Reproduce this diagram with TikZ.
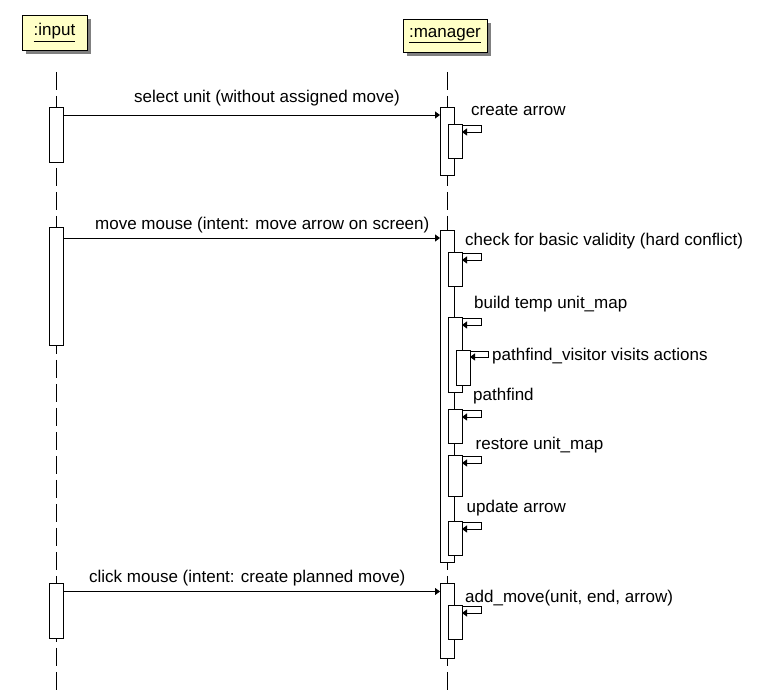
\documentclass[tikz,border=0pt]{standalone}
\usepackage{fontspec}
\setmainfont{Liberation Sans}
\usetikzlibrary{arrows.meta}
\definecolor{hdrfill}{HTML}{FFFFC6}
\definecolor{shadowgray}{HTML}{808080}
\begin{document}
\begin{tikzpicture}[x=1pt,y=-1pt,
  every node/.style={font=\fontsize{17}{20}\selectfont},
  bar/.style={draw, fill=white, line width=0.9pt, minimum width=14pt, inner sep=0pt, outer sep=0pt, anchor=north},
  hdr/.style={draw, fill=hdrfill, line width=0.9pt, inner sep=0pt, outer sep=0pt, anchor=north west},
  shd/.style={fill=shadowgray, draw=none, inner sep=0pt, outer sep=0pt, anchor=north west},
  lifeline/.style={line width=0.9pt, dash pattern=on 18pt off 6pt},
  msg/.style={line width=0.9pt, -{Triangle[length=5pt,width=7pt]}},
  selfcall/.style={line width=0.9pt, -{Triangle[length=5pt,width=7pt]}},
  lbl/.style={anchor=base west, inner sep=0pt}
]
\useasboundingbox (0,0) rectangle (772,692);

% headers
\node[shd, minimum width=65pt, minimum height=35pt] (shin) at (26,19) {};
\node[hdr, minimum width=65pt, minimum height=35pt] (hin) at (22,15) {\underline{:input}};
\node[shd, minimum width=84pt, minimum height=33pt] (shmg) at (407,23) {};
\node[hdr, minimum width=84pt, minimum height=33pt] (hmg) at (403,19) {\underline{:manager}};

% lifelines
\coordinate (inTop) at (56.5,72);
\coordinate (inBot) at (56.5,692);
\coordinate (mgTop) at (447,72);
\coordinate (mgBot) at (447,692);
\draw[lifeline] (inTop) -- (inBot);
\draw[lifeline] (mgTop) -- (mgBot);

% input activations
\node[bar, minimum height=55pt] (ib1) at (56.5,107) {};
\node[bar, minimum height=118pt] (ib2) at (56.5,227) {};
\node[bar, minimum height=55pt] (ib3) at (56.5,583) {};

% manager activations
\node[bar, minimum height=68pt] (mb1) at (447,107) {};
\node[bar, minimum height=34pt] (c1) at (455,124) {};

\node[bar, minimum height=332pt] (mb2) at (447,230) {};
\node[bar, minimum height=34pt] (c2) at (455,252) {};
\node[bar, minimum height=75pt] (c3) at (455,317) {};
\node[bar, minimum height=35pt] (c4) at (463,350) {};
\node[bar, minimum height=34pt] (c5) at (455,409) {};
\node[bar, minimum height=41pt] (c6) at (455,455) {};
\node[bar, minimum height=34pt] (c7) at (455,521) {};

\node[bar, minimum height=75pt] (mb3) at (447,583) {};
\node[bar, minimum height=34pt] (c8) at (455,605) {};

% messages
\coordinate (m1) at (0,115);
\coordinate (m2) at (0,238);
\coordinate (m3) at (0,591.5);
\draw[msg] (ib1.east |- m1) -- (mb1.west |- m1);
\draw[msg] (ib2.east |- m2) -- (mb2.west |- m2);
\draw[msg] (ib3.east |- m3) -- (mb3.west |- m3);
\node[lbl] (l1) at (134,102.5) {select unit (without assigned move)};
\node[lbl] (l2) at (95,229.5) {move mouse (intent: move arrow on screen)};
\node[lbl] (l3) at (89,582.5) {click mouse (intent: create planned move)};

% self calls
\foreach \c in {c1,c2,c3,c5,c6,c7,c8}{
  \draw[selfcall] ([yshift=-1pt]\c.north east) -- ++(19,0) -- ++(0,7) -- ([yshift=-8pt]\c.north east);
}
\draw[selfcall] ([yshift=-1pt]c4.north east) -- ++(18,0) -- ++(0,6) -- ([yshift=-7pt]c4.north east);

\node[lbl] (t1) at (471,116) {create arrow};
\node[lbl] (t2) at (465,246) {check for basic validity (hard conflict)};
\node[lbl] (t3) at (474,309) {build temp unit\_map};
\node[lbl] (t4) at (492,361) {pathfind\_visitor visits actions};
\node[lbl] (t5) at (473,401) {pathfind};
\node[lbl] (t6) at (475.5,450) {restore unit\_map};
\node[lbl] (t7) at (466.5,512.5) {update arrow};
\node[lbl] (t8) at (465,603) {add\_move(unit, end, arrow)};
\end{tikzpicture}
\end{document}
